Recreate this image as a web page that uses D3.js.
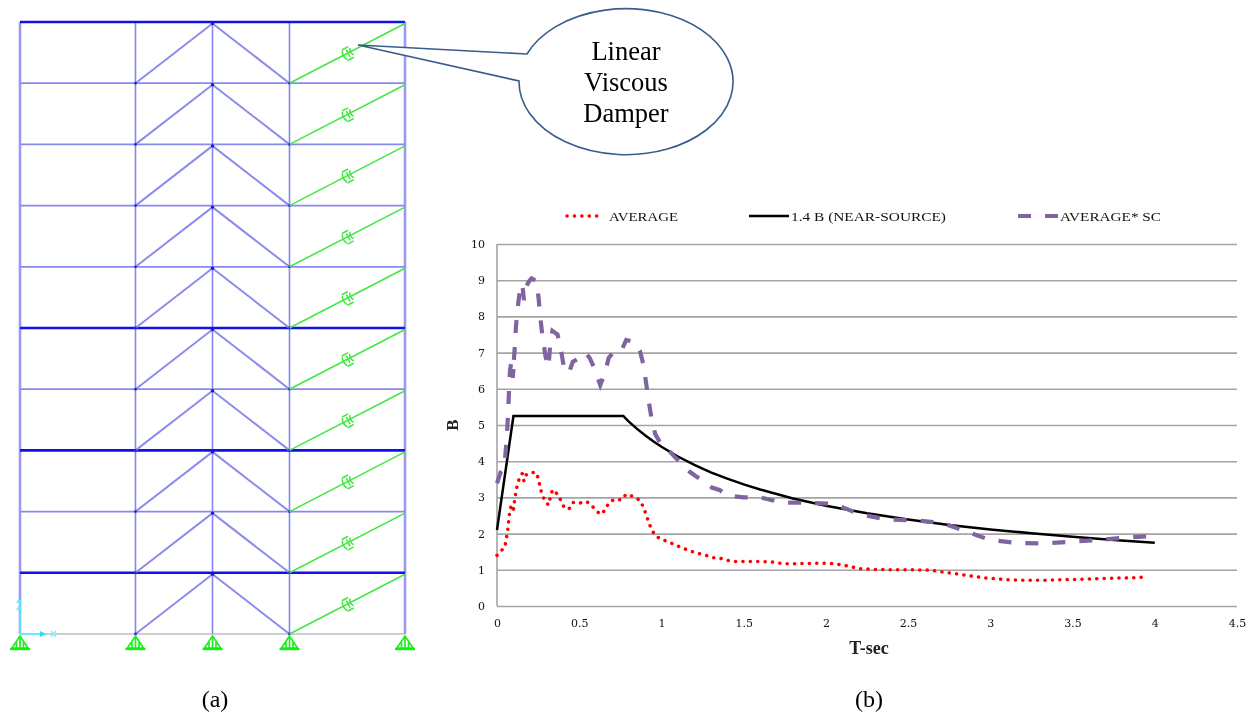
<!DOCTYPE html>
<html>
<head>
<meta charset="utf-8">
<title>Frame and spectra</title>
<script src="https://cdn.jsdelivr.net/npm/d3@7"></script>
<style>
  html, body { margin: 0; padding: 0; background: #fff; }
  svg { display: block; filter: blur(0.35px); }
</style>
</head>
<body>
<div id="chart"></div>
<script>
// courbe AVERAGE
let avgT = [0, .024, .046, .055, .063, .069, .073, .079, .089, .103, .095, .109, .115, .125, .139, .154, .164, .176, .192, .21, .24, .253, .263, .275, .295, .313, .325, .337, .368, .39, .41, .438, .461, .503, .537, .564, .594, .628, .659, .679, .715, .756, .786, .83, .869, .891, .907, .921, .939, .962, 1.0, 1.044, 1.085, 1.129, 1.174, 1.218, 1.263, 1.307, 1.356, 1.402, 1.448, 1.498, 1.595, 1.69, 1.735, 1.83, 1.924, 2.015, 2.066, 2.112, 2.157, 2.204, 2.3, 2.45, 2.55, 2.634, 2.725, 2.816, 2.862, 2.958, 3.009, 3.1, 3.19, 3.29, 3.384, 3.475, 3.576, 3.668, 3.763, 3.856, 3.95];
let avgB = [1.4, 1.53, 1.6, 1.81, 2.03, 2.24, 2.45, 2.67, 2.79, 2.73, 2.58, 2.95, 3.16, 3.37, 3.57, 3.66, 3.45, 3.62, 3.66, 3.69, 3.68, 3.48, 3.27, 3.06, 2.88, 2.79, 3.01, 3.21, 3.09, 2.9, 2.71, 2.68, 2.86, 2.84, 2.89, 2.84, 2.68, 2.53, 2.65, 2.85, 2.95, 2.93, 3.09, 3.02, 2.92, 2.73, 2.52, 2.33, 2.13, 1.94, 1.84, 1.77, 1.68, 1.6, 1.52, 1.46, 1.41, 1.34, 1.32, 1.26, 1.23, 1.23, 1.23, 1.21, 1.17, 1.17, 1.18, 1.18, 1.16, 1.12, 1.08, 1.03, 1.01, 1.0, 1.0, .99, .93, .875, .84, .78, .76, .73, .71, .71, .72, .73, .74, .76, .77, .78, .8];

// courbe 1.4 B (NEAR-SOURCE)
let nearT = [0, .1, .768, .8, .85, .9, .95, 1, 1.1, 1.2, 1.3, 1.4, 1.5, 1.6, 1.8, 2, 2.25, 2.5, 2.75, 3, 3.25, 3.5, 3.75, 4];
let nearB = [2.1, 5.25, 5.25, 5.1, 4.9, 4.72, 4.55, 4.4, 4.13, 3.9, 3.69, 3.52, 3.36, 3.22, 2.97, 2.77, 2.56, 2.39, 2.24, 2.115, 2.01, 1.91, 1.82, 1.75];

// courbe AVERAGE* SC
let scT = [0, .024, .046, .055, .063, .069, .073, .079, .089, .103, .095, .109, .115, .125, .139, .154, .164, .176, .192, .21, .24, .253, .263, .275, .295, .313, .325, .337, .368, .39, .41, .438, .461, .503, .537, .564, .594, .628, .659, .679, .715, .756, .786, .83, .869, .891, .907, .921, .939, .962, 1.0, 1.044, 1.085, 1.129, 1.174, 1.218, 1.263, 1.307, 1.356, 1.402, 1.5, 1.6, 1.73, 1.885, 2.05, 2.21, 2.37, 2.53, 2.7, 2.86, 3, 3.17, 3.33, 3.5, 3.67, 3.83, 3.98];
let scB = [3.39, 3.72, 3.9, 4.4, 4.95, 5.45, 5.95, 6.5, 6.8, 6.66, 6.3, 7.2, 7.7, 8.2, 8.72, 8.9, 8.45, 8.8, 8.95, 9.05, 8.98, 8.5, 8, 7.5, 6.9, 6.6, 7.3, 7.6, 7.5, 7.05, 6.5, 6.45, 6.75, 6.85, 7.0, 6.85, 6.55, 6.1, 6.47, 6.85, 7.05, 7.05, 7.35, 7.3, 7.05, 6.66, 6.15, 5.7, 5.2, 4.75, 4.45, 4.3, 4.1, 3.9, 3.7, 3.56, 3.44, 3.27, 3.2, 3.05, 3.0, 3.0, 2.86, 2.85, 2.82, 2.53, 2.39, 2.37, 2.3, 2.05, 1.82, 1.74, 1.73, 1.78, 1.83, 1.89, 1.93];

let xTicks = [0, .5, 1, 1.5, 2, 2.5, 3, 3.5, 4, 4.5];
let yTicks = [0, 1, 2, 3, 4, 5, 6, 7, 8, 9, 10];

// le portique : travées et niveaux
let columns = [0, 3, 5, 7, 10];
let storeys = [0, 1, 2, 3, 4, 5, 6, 7, 8, 9, 10];
let heavyBeams = [1, 3, 5, 10];

let svg = d3.select("#chart").append("svg").attr("width", 1252).attr("height", 713);

// ---- (a) portique ----
let fx = d3.scaleLinear().domain([0, 10]).range([20, 405]);
let fy = d3.scaleLinear().domain([0, 10]).range([634, 22]);
let frame = svg.append("g");

frame.append("line")
  .attr("x1", fx(0)).attr("x2", fx(10)).attr("y1", fy(0)).attr("y2", fy(0))
  .attr("stroke", "#cfcfcf").attr("stroke-width", 2);

columns.forEach(function(c) {
  let outer = c == 0 || c == 10;
  frame.append("line")
    .attr("x1", fx(c)).attr("x2", fx(c)).attr("y1", fy(0)).attr("y2", fy(10))
    .attr("stroke", outer ? "#9a9af6" : "#8686f2").attr("stroke-width", outer ? 2.6 : 1.6);
});

storeys.slice(1).forEach(function(s) {
  let heavy = heavyBeams.indexOf(s) >= 0;
  frame.append("line")
    .attr("x1", fx(0)).attr("x2", fx(10)).attr("y1", fy(s)).attr("y2", fy(s))
    .attr("stroke", heavy ? "#1010e8" : "#8888f2").attr("stroke-width", heavy ? 2.6 : 1.8);
});

storeys.slice(0, -1).forEach(function(s) {
  // chevrons
  [3, 7].forEach(function(c) {
    frame.append("line")
      .attr("x1", fx(c)).attr("y1", fy(s))
      .attr("x2", fx(5)).attr("y2", fy(s + 1) + 1.5)
      .attr("stroke", "#8c8cea").attr("stroke-width", 2);
  });
  frame.append("circle").attr("cx", fx(5)).attr("cy", fy(s + 1) + 1.5).attr("r", 1.7).attr("fill", "#1818d0");
  frame.append("circle").attr("cx", fx(3)).attr("cy", fy(s)).attr("r", 1.4).attr("fill", "#2828d0");
  frame.append("circle").attr("cx", fx(7)).attr("cy", fy(s)).attr("r", 1.4).attr("fill", "#2828d0");

  // amortisseur
  frame.append("line")
    .attr("x1", fx(7)).attr("y1", fy(s))
    .attr("x2", fx(10)).attr("y2", fy(s + 1) + 1.5)
    .attr("stroke", "#44e844").attr("stroke-width", 1.6);
  let mx = (fx(7) + fx(10)) / 2 + 1;
  let my = (fy(s) + fy(s + 1) + 1.5) / 2;
  let angle = Math.atan2(fy(s + 1) - fy(s), fx(10) - fx(7)) * 180 / Math.PI;
  let damper = frame.append("g").attr("transform", "translate(" + mx + "," + my + ") rotate(" + angle + ")");
  damper.append("path")
    .attr("d", "M-4,-5 Q-7,0 -4,5 M-4,-6 L3,-6 M-4,6 L3,6 M0,-4 L0,4 M4,-4 Q1,0 4,4")
    .attr("fill", "none").attr("stroke", "#44e844").attr("stroke-width", 1.6);
});

// appuis
columns.forEach(function(c) {
  let x = fx(c);
  frame.append("path")
    .attr("d", "M" + x + ",636 L" + (x - 8) + ",648 L" + (x + 8) + ",648 Z M" + x + ",636 L" + x + ",648 M" + (x - 3.5) + ",642 L" + (x - 3.5) + ",648 M" + (x + 3.5) + ",642 L" + (x + 3.5) + ",648")
    .attr("fill", "none").attr("stroke", "#22ee22").attr("stroke-width", 1.7);
  frame.append("line").attr("x1", x - 10).attr("x2", x + 10).attr("y1", 649).attr("y2", 649)
    .attr("stroke", "#11ee11").attr("stroke-width", 2.4);
});

// repère
frame.append("path").attr("d", "M20,634 L20,600 M20,634 L45,634").attr("stroke", "#55eeff").attr("stroke-width", 1.5).attr("fill", "none");
frame.append("path").attr("d", "M40,631 L46,634 L40,637 Z").attr("fill", "#22ddff");
frame.append("path").attr("d", "M51,631 L56,637 M56,631 L51,637").attr("stroke", "#88eeff").attr("stroke-width", 1.5);
frame.append("path").attr("d", "M17,603 L19,600 L21,603 M17,610 L19,607 L21,610").attr("stroke", "#55eeff").attr("stroke-width", 1.5).attr("fill", "none");

// bulle
svg.append("path")
  .attr("d", function() {
    let rx = 107, ry = 73;
    return "M527,54 A" + rx + "," + ry + " 0 1 1 519,81 L358,45 Z";
  })
  .attr("fill", "#fff").attr("stroke", "#385d8a").attr("stroke-width", 1.6);
svg.append("g").selectAll("text")
  .data(["Linear", "Viscous", "Damper"])
  .enter().append("text")
  .attr("x", 626)
  .attr("y", function(d, i) { return 60 + i * 31; })
  .attr("text-anchor", "middle")
  .style("font-family", "'Liberation Serif'")
  .style("font-size", "26.5px")
  .text(function(d) { return d; });

// ---- (b) spectres ----
let x = d3.scaleLinear().domain([0, 4.5]).range([497, 1237]);
let y = d3.scaleLinear().domain([0, 10]).range([606, 244]);

let xAxis = d3.axisBottom(x).tickValues(xTicks).tickSize(0).tickPadding(13).tickFormat(d3.format("~g"));
let yAxis = d3.axisLeft(y).tickValues(yTicks).tickSize(-740).tickPadding(12).tickFormat(d3.format("d"));

let gy = svg.append("g").attr("transform", "translate(497,0)").call(yAxis);
gy.select(".domain").remove();
gy.selectAll("line").attr("stroke", "#a4a4a4").attr("stroke-width", 1.6);
let gx = svg.append("g").attr("transform", "translate(0,606)").call(xAxis);
gx.select(".domain").remove();
svg.append("line").attr("x1", 497).attr("x2", 497).attr("y1", 244).attr("y2", 606)
  .attr("stroke", "#a4a4a4").attr("stroke-width", 1.6);
svg.selectAll("g.tick text")
  .style("font-family", "'DejaVu Serif'")
  .style("font-size", "11px")
  .attr("fill", "#111");

let line = d3.line().x(function(d) { return x(d[0]); }).y(function(d) { return y(d[1]); });

let styles = {
  avg: { stroke: "#ff0000", width: 3.5, dash: "0.1 7.3", cap: "round" },
  near: { stroke: "#000000", width: 2.5, dash: null, cap: "butt" },
  sc: { stroke: "#8064a2", width: 4.2, dash: "13 14", cap: "butt" }
};

function style(sel, s) {
  return sel.attr("fill", "none")
    .attr("stroke", s.stroke)
    .attr("stroke-width", s.width)
    .attr("stroke-dasharray", s.dash)
    .attr("stroke-linecap", s.cap);
}

style(svg.append("path").attr("d", line(d3.zip(avgT, avgB))), styles.avg);
style(svg.append("path").attr("d", line(d3.zip(nearT, nearB))), styles.near);
style(svg.append("path").attr("d", line(d3.zip(scT, scB))), styles.sc);

// légende
let legend = [
  { name: "AVERAGE", s: styles.avg, x1: 567, x2: 603, tx: 609, len: 69 },
  { name: "1.4 B (NEAR-SOURCE)", s: styles.near, x1: 749, x2: 789, tx: 791, len: 155 },
  { name: "AVERAGE* SC", s: styles.sc, x1: 1018, x2: 1058, tx: 1060, len: 101 }
];
legend.forEach(function(l) {
  style(svg.append("line").attr("x1", l.x1).attr("x2", l.x2).attr("y1", 216).attr("y2", 216), l.s);
  svg.append("text")
    .attr("x", l.tx).attr("y", 220.5)
    .attr("textLength", l.len)
    .attr("lengthAdjust", "spacingAndGlyphs")
    .style("font-family", "'Liberation Serif'")
    .style("font-size", "13px")
    .attr("fill", "#111")
    .text(l.name);
});

// titres des axes
svg.append("text").attr("x", 869).attr("y", 654).attr("text-anchor", "middle")
  .style("font-family", "'Liberation Serif'").style("font-size", "18px").style("font-weight", "bold")
  .attr("fill", "#222").text("T-sec");
svg.append("text").attr("transform", "translate(458,425) rotate(-90)").attr("text-anchor", "middle")
  .style("font-family", "'Liberation Serif'").style("font-size", "17px").style("font-weight", "bold")
  .attr("fill", "#222").text("B");

// légendes (a) et (b)
[["(a)", 215], ["(b)", 869]].forEach(function(c) {
  svg.append("text").attr("x", c[1]).attr("y", 707).attr("text-anchor", "middle")
    .style("font-family", "'Liberation Serif'").style("font-size", "24px")
    .text(c[0]);
});
</script>
</body>
</html>
